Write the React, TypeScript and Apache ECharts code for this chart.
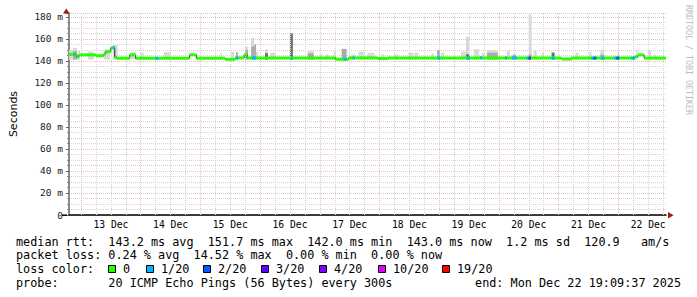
import React, { useEffect, useRef } from 'react';
import * as echarts from 'echarts';

// Time axis: hours since the window start (Dec 12 19:09:37), 10 days wide.
const START_HOUR = 19 + 9 / 60 + 37 / 3600;
const SPAN_HOURS = 240;
const FIRST_DAY = 12;

// Median RTT (ms), step changes: [hour, value]
const medianSteps: [number, number][] = [
  [0, 146], [3.2, 143.5], [4.0, 145.5], [10.8, 144.8], [14.0, 146.4], [14.8, 148.5],
  [16.8, 152], [18.4, 143.4], [19.2, 142.4], [24.4, 145.5], [26.8, 142.4], [48.4, 145.5],
  [51.2, 142.5], [62.8, 141.5], [66.8, 142.8], [70.4, 145.5], [71.6, 142.8], [107.2, 141.6],
  [112.4, 142.8], [124, 142.2], [128, 142.8], [179.2, 142.6], [198, 141.8], [202, 142.6],
  [227.6, 144], [228.8, 145.5], [231.2, 142.6], [240, 142.6],
];

// Packet loss periods: [startHour, endHour, lost pings of 20]
const lossMarks: [number, number, number][] = [
  [2.0, 2.8, 1], [17.6, 18.4, 1], [34.8, 36.0, 1], [67.2, 68.0, 1], [73.6, 75.2, 1],
  [89.2, 90.0, 1], [110.4, 111.6, 1], [114.0, 114.8, 1], [148.0, 149.2, 1], [160.0, 161.2, 1],
  [165.2, 166.0, 1], [175.2, 176.0, 1], [178.0, 180.0, 1], [184.0, 184.8, 1], [184.8, 185.6, 3],
  [194.0, 195.2, 1], [210.0, 210.8, 1], [210.8, 212.0, 2], [214.0, 215.2, 1], [219.2, 220.0, 1],
  [220.0, 221.2, 2], [226.0, 227.6, 1],
];

// Smoke (ping spread): [startHour, endHour, top ms]
const SMOKE_LOW = 141.3;
const smokeLight: [number, number, number][] = [
  [0, 1.6, 150], [1.6, 3.2, 152], [3.6, 4.4, 149], [7.6, 10, 148.5], [14, 16.4, 150.5],
  [17.6, 19.6, 154.5], [24.8, 26.8, 148], [28.8, 30, 147.5], [38, 40.8, 148], [60.8, 61.6, 147],
  [65.2, 66.4, 148.5], [70.8, 72, 153], [73.2, 74.4, 161], [75.2, 76, 148.5], [78.8, 80, 150.6],
  [80.8, 82.8, 147.5], [96, 98.4, 149], [100.8, 102, 146], [103.2, 104.4, 146], [106.4, 107.2, 149],
  [113.6, 115.2, 146], [116.4, 118.8, 148.5], [120, 122.8, 147.5], [125.6, 126.8, 146],
  [130.8, 132.4, 146], [136.4, 138.4, 147.7], [138.8, 140.4, 147.5], [145.6, 146.8, 146.5],
  [149.6, 150.8, 147.5], [157.6, 159.6, 148.5], [159.6, 160.8, 162], [162.8, 164.8, 150.6],
  [166, 167.2, 147.5], [168, 172.4, 150], [176, 177.2, 149.5], [184.8, 186, 182],
  [186.8, 188, 149.5], [190, 190.8, 147.7], [203.6, 204.8, 147.7], [209.2, 210, 148.5],
  [213.6, 215.2, 150.3], [220.4, 221.2, 147.7], [228, 228.8, 150], [232.8, 234, 150], [235.2, 236, 146],
];
const smokeMid: [number, number, number][] = [
  [1.6, 3.2, 149], [67.2, 68, 148], [70.8, 72, 150], [73.2, 74.4, 153], [74.4, 75.2, 155],
  [96, 98.4, 147], [109.6, 111.6, 151], [148, 149.2, 150], [168, 172.4, 147.5], [178.4, 179.6, 146],
  [184.8, 186, 146], [213.6, 215.2, 146],
];
const smokeDark: [number, number, number][] = [
  [78.8, 80, 147], [88.8, 90, 165], [159.6, 160.8, 146], [194, 195.2, 147.7],
];

// Legend texts
const statLines = [
  'median rtt:  143.2 ms avg  151.7 ms max  142.0 ms min  143.0 ms now  1.2 ms sd  120.9   am/s',
  'packet loss: 0.24 % avg  14.52 % max  0.00 % min  0.00 % now',
];
const lossLevels = [0, 1, 2, 3, 4, 10, 19];
const lossLabels = ['0', '1/20', '2/20', '3/20', '4/20', '10/20', '19/20'];
const lossColors = ['#26ff00', '#00b8ff', '#0059ff', '#5e00ff', '#7e00ff', '#dd00ff', '#ff0000'];
const probeText = 'probe:       20 ICMP Echo Pings (56 Bytes) every 300s';
const endText = 'end: Mon Dec 22 19:09:37 2025';

const MONO = "'DejaVu Sans Mono', monospace";
const MAJOR_GRID = '#efbcbc';
const MINOR_GRID = '#d6d6d6';

function medianAt(t: number): number {
  let v = medianSteps[0][1];
  for (const [h, m] of medianSteps) {
    if (h <= t) v = m;
  }
  return v;
}

function colorForLoss(level: number): string {
  const i = lossLevels.indexOf(level);
  return i >= 0 ? lossColors[i] : lossColors[lossColors.length - 1];
}

function buildOption(): any {
  const firstMidnight = 24 - START_HOUR;
  const majorX: number[] = [];
  const minorX: number[] = [];
  for (let t = firstMidnight - 24; t <= SPAN_HOURS; t += 6) {
    if (t < 0) continue;
    const k = Math.round((t - firstMidnight) / 6);
    if (k % 4 === 0) majorX.push(t);
    else minorX.push(t);
  }
  const noons: number[] = [];
  for (let t = firstMidnight + 12; t <= SPAN_HOURS; t += 24) noons.push(t);

  const medianSegs = medianSteps.slice(0, -1).map((p, i) => [p[0], medianSteps[i + 1][0], p[1]]);
  const lossData = lossMarks.map(([a, b, l]) => [a, b, medianAt((a + b) / 2), l]);

  const smokeSeries = (data: [number, number, number][], color: string, z: number) => ({
    type: 'custom',
    z,
    silent: true,
    data,
    encode: { x: [0, 1], y: [2] },
    renderItem: (_p: any, api: any) => {
      const p0 = api.coord([api.value(0), api.value(2)]);
      const p1 = api.coord([api.value(1), SMOKE_LOW]);
      return {
        type: 'rect',
        shape: { x: p0[0], y: p0[1], width: Math.max(1, p1[0] - p0[0]), height: p1[1] - p0[1] },
        style: { fill: color },
      };
    },
  });

  const graphic: any[] = [];
  graphic.push({
    type: 'polygon', shape: { points: [[63, 13.5], [69.5, 13.5], [66.3, 8.5]] },
    style: { fill: '#9a1a1a' }, z: 100,
  });
  graphic.push({
    type: 'polygon', shape: { points: [[668, 212], [668, 218.5], [673.5, 215.2]] },
    style: { fill: '#9a1a1a' }, z: 100,
  });
  graphic.push({
    type: 'line', shape: { x1: 62, y1: 215.2, x2: 67, y2: 215.2 },
    style: { stroke: '#000', lineWidth: 1.5 }, z: 100,
  });
  graphic.push({
    type: 'text', x: 688.5, y: 60, rotation: -Math.PI / 2,
    style: {
      text: 'RRDTOOL / TOBI OETIKER', fill: '#bdbdbd', font: `8.3px ${MONO}`,
      align: 'center', verticalAlign: 'middle',
    },
  });
  const lineY = [241.7, 255.3, 269, 282.7];
  statLines.forEach((s, i) => {
    graphic.push({
      type: 'text', x: 16, y: lineY[i],
      style: { text: s, fill: '#000', font: `11.8px ${MONO}`, verticalAlign: 'middle' },
    });
  });
  graphic.push({
    type: 'text', x: 16, y: lineY[2],
    style: { text: 'loss color:', fill: '#000', font: `11.8px ${MONO}`, verticalAlign: 'middle' },
  });
  const boxX = [108, 146, 203, 261, 319, 378, 442];
  lossLabels.forEach((lab, i) => {
    graphic.push({
      type: 'rect', shape: { x: boxX[i] + 0.5, y: 265.5, width: 7, height: 7 },
      style: { fill: lossColors[i], stroke: '#000', lineWidth: 1 },
    });
    graphic.push({
      type: 'text', x: boxX[i] + 15, y: lineY[2],
      style: { text: lab, fill: '#000', font: `11.8px ${MONO}`, verticalAlign: 'middle' },
    });
  });
  graphic.push({
    type: 'text', x: 16, y: lineY[3],
    style: { text: probeText, fill: '#000', font: `11.8px ${MONO}`, verticalAlign: 'middle' },
  });
  graphic.push({
    type: 'text', x: 681, y: lineY[3],
    style: { text: endText, fill: '#000', font: `11.8px ${MONO}`, align: 'right', verticalAlign: 'middle' },
  });

  return {
    animation: false,
    backgroundColor: '#ffffff',
    grid: { left: 66, right: 31, top: 13, bottom: 82, containLabel: false },
    xAxis: {
      type: 'value',
      min: 0,
      max: SPAN_HOURS,
      axisLine: { show: true, lineStyle: { color: '#000', width: 1.5 } },
      axisTick: { show: false },
      splitLine: { show: false },
      axisLabel: {
        customValues: noons,
        margin: 4,
        color: '#000',
        fontFamily: MONO,
        fontSize: 9.7,
        formatter: (v: number) => `${FIRST_DAY + Math.floor((v + START_HOUR) / 24)} Dec`,
      },
    },
    yAxis: {
      type: 'value',
      min: 0,
      max: 183.6,
      interval: 20,
      name: 'Seconds',
      nameLocation: 'middle',
      nameRotate: 90,
      nameGap: 50,
      nameTextStyle: { fontFamily: "'DejaVu Sans', sans-serif", fontSize: 11, color: '#000' },
      axisLine: { show: true, lineStyle: { color: '#666', width: 1.5 } },
      axisTick: { show: true, length: 3, lineStyle: { color: '#666' } },
      minorTick: { show: true, splitNumber: 4, length: 2, lineStyle: { color: '#888' } },
      splitLine: { show: true, lineStyle: { color: MAJOR_GRID, width: 1, type: [1, 1] } },
      minorSplitLine: { show: true, lineStyle: { color: MINOR_GRID, width: 1, type: [1, 1] } },
      axisLabel: {
        showMaxLabel: false,
        margin: 6,
        color: '#222',
        fontFamily: MONO,
        fontSize: 9.5,
        formatter: (v: number) => (v === 0 ? '0' : `${v} m`),
      },
    },
    graphic,
    series: [
      {
        type: 'line',
        name: 'grid',
        z: 1,
        silent: true,
        data: [[0, 0]],
        symbol: 'none',
        lineStyle: { opacity: 0 },
        markLine: {
          silent: true,
          symbol: ['none', 'none'],
          label: { show: false },
          animation: false,
          data: [
            ...minorX.map((t) => ({ xAxis: t, lineStyle: { color: MINOR_GRID, width: 1, type: [1, 1] } })),
            ...majorX.map((t) => ({ xAxis: t, lineStyle: { color: MAJOR_GRID, width: 1, type: [1, 1] } })),
          ],
        },
      },
      smokeSeries(smokeLight, '#d9d9d9', 2),
      smokeSeries(smokeMid, '#ababab', 3),
      smokeSeries(smokeDark, '#6e6e6e', 4),
      {
        type: 'line',
        name: 'median',
        z: 5,
        data: medianSteps,
        step: 'end',
        symbol: 'none',
        silent: true,
        lineStyle: { color: '#202020', width: 1 },
      },
      {
        type: 'custom',
        z: 6,
        silent: true,
        data: medianSegs,
        encode: { x: [0, 1], y: [2] },
        renderItem: (_p: any, api: any) => {
          const p0 = api.coord([api.value(0), api.value(2)]);
          const p1 = api.coord([api.value(1), api.value(2)]);
          return {
            type: 'rect',
            shape: { x: p0[0], y: p0[1] - 1.5, width: p1[0] - p0[0], height: 3 },
            style: { fill: lossColors[0] },
          };
        },
      },
      {
        type: 'custom',
        z: 7,
        silent: true,
        data: lossData,
        encode: { x: [0, 1], y: [2] },
        renderItem: (_p: any, api: any) => {
          const p0 = api.coord([api.value(0), api.value(2)]);
          const p1 = api.coord([api.value(1), api.value(2)]);
          return {
            type: 'rect',
            shape: { x: p0[0], y: p0[1] - 1.5, width: Math.max(1, p1[0] - p0[0]), height: 3 },
            style: { fill: colorForLoss(api.value(3)) },
          };
        },
      },
    ],
  };
}

export default function App() {
  const ref = useRef<HTMLDivElement>(null);
  useEffect(() => {
    if (!ref.current) return;
    const chart = echarts.init(ref.current, null, { renderer: 'svg' });
    chart.setOption(buildOption());
    return () => chart.dispose();
  }, []);
  return (
    <div
      ref={ref}
      style={{ position: 'absolute', left: 0, top: 0, width: 697, height: 297, background: '#fff' }}
    />
  );
}
